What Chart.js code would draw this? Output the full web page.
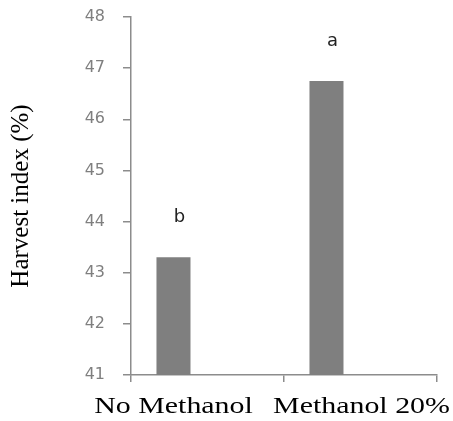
<!DOCTYPE html>
<html>
<head>
<meta charset="utf-8">
<title>Harvest index</title>
<script src="https://cdn.jsdelivr.net/npm/chart.js@4/dist/chart.umd.min.js"></script>
<style>
  html, body { margin: 0; padding: 0; background: #fff; }
  #container { width: 453px; height: 421px; }
</style>
</head>
<body>
<div id="container"><canvas id="canvas"></canvas></div>
<script>
// data
var treatments = ['No Methanol', 'Methanol 20%'];
var harvestIndex = [43.3, 46.75];
var letters = ['b', 'a'];
var yMin = 41;
var yMax = 48;

var axisGray = '#8c8c8c';
// the original category labels are not quite centred
var labelShift = [-34, 1];

// significance letters above the bars + the wide serif category labels
var textPlugin = {
  id: 'texts',
  afterDatasetsDraw: function(chart) {
    var meta = chart.getDatasetMeta(0);
    var ctx = chart.ctx;
    ctx.save();
    ctx.font = '18px "DejaVu Sans", sans-serif';
    ctx.fillStyle = '#222';
    ctx.textAlign = 'center';
    ctx.textBaseline = 'middle';
    meta.data.forEach(function(bar, i) {
      ctx.fillText(letters[i], bar.x + 6, bar.y - 40);
    });
    ctx.restore();
  },
  afterDraw: function(chart) {
    var xs = chart.scales.x;
    var ctx = chart.ctx;
    ctx.save();
    ctx.font = '23px "Liberation Serif", serif';
    ctx.fillStyle = '#000';
    ctx.textAlign = 'center';
    ctx.textBaseline = 'alphabetic';
    treatments.forEach(function(t, i) {
      ctx.save();
      ctx.translate(xs.getPixelForTick(i) + labelShift[i], xs.top + 38);
      ctx.scale(1.3, 1);
      ctx.fillText(t, 0, 0);
      ctx.restore();
    });
    ctx.restore();
  }
};

var ctx = document.getElementById('canvas').getContext('2d');

window.myBar = new Chart(ctx, {
  type: 'bar',
  data: {
    labels: treatments,
    datasets: [
      { data: harvestIndex, backgroundColor: '#7f7f7f', borderWidth: 0 },
      // empty series so the bars sit left in each category like the original
      { data: [null, null] },
      { data: [null, null] }
    ]
  },
  options: {
    responsive: true,
    maintainAspectRatio: false,
    animation: false,
    categoryPercentage: 0.667,
    barPercentage: 1,
    layout: { padding: { top: 17, right: 16, left: 0, bottom: 0 } },
    plugins: {
      legend: { display: false },
      tooltip: { enabled: false }
    },
    scales: {
      x: {
        afterFit: function(s) { s.height = 46; },
        grid: { drawOnChartArea: false, offset: true, tickLength: 7, color: axisGray, lineWidth: 1.5 },
        border: { color: axisGray, width: 1.5 },
        ticks: { display: false }
      },
      y: {
        min: yMin,
        max: yMax,
        afterFit: function(s) {
          s.width = 131;
          s.paddingTop = 0;
          s.paddingBottom = 0;
        },
        grid: { drawOnChartArea: false, tickLength: 8, color: axisGray, lineWidth: 1.5 },
        border: { color: axisGray, width: 1.5 },
        ticks: {
          stepSize: 1,
          color: '#7f7f7f',
          font: { family: '"DejaVu Sans", sans-serif', size: 16 },
          padding: 18
        },
        title: {
          display: true,
          text: 'Harvest index (%)',
          color: '#000',
          font: { family: '"Liberation Serif", serif', size: 25, weight: 'normal' },
          padding: { top: 6, bottom: 0 }
        }
      }
    }
  },
  plugins: [textPlugin]
});
</script>
</body>
</html>
